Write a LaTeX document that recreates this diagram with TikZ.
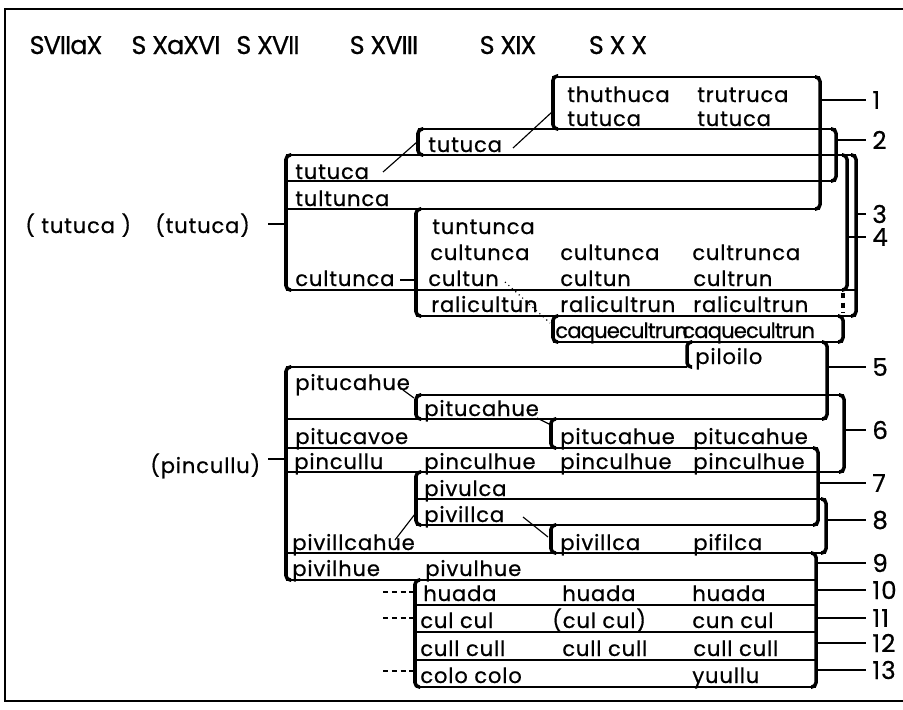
\documentclass[tikz,border=0pt]{standalone}
\usepackage{fontspec}
\newfontfamily\lbl[LetterSpace=4,FakeBold=0.6]{Poppins}
\newfontfamily\lbltight[LetterSpace=-4,FakeBold=0.6]{Poppins}
\begin{document}
\begin{tikzpicture}[x=0.02cm,y=-0.02cm,
  rowline/.style={line width=0.75pt},
  brk/.style={line width=2pt},
  tick/.style={line width=0.75pt},
  link/.style={line width=0.65pt},
  word/.style={anchor=base west, inner sep=0pt, font=\lbl\fontsize{12}{14}\selectfont},
  tightword/.style={anchor=base west, inner sep=0pt, font=\lbltight\fontsize{12}{14}\selectfont},
  head/.style={anchor=base, inner sep=0pt, font=\lbltight\fontsize{14.5}{16}\selectfont},
  num/.style={anchor=west, inner sep=0pt, font=\lbl\fontsize{14}{16}\selectfont},
  lhook/.style={brk, rounded corners=2.5pt},
  rhook/.style={brk, rounded corners=2.5pt}]
\useasboundingbox (0,0) rectangle (903,710);
\draw[line width=0.8pt] (906,9) -- (5,9) -- (5,701) -- (906,701);

% century headings
\node[head] (c1) at (66,54) {SVIIaX};
\node[head] (c2) at (176,54) {S XaXVI};
\node[head] (c3) at (268,54) {S XVII};
\node[head] (c4) at (384,54) {S XVIII};
\node[head] (c5) at (508,54) {S XIX};
\node[head] (c6) at (618,54) {S X X};

% names, row by row
\node[word] (thuthuca) at (567,102) {thuthuca};
\node[word] (trutruca) at (697,102) {trutruca};
\node[word] (tutucaXIX) at (567,126) {tutuca};
\node[word] (tutucaXX) at (697,126) {tutuca};
\node[word] (tutucaXVIII) at (428,152) {tutuca};
\node[word] (tutucaXVII) at (295,179) {tutuca};
\node[word] (tultunca) at (295,206) {tultunca};
\node[word] (tuntunca) at (432,234) {tuntunca};
\node[word] (cultuncaXVIII) at (430,260) {cultunca};
\node[word] (cultuncaXIX) at (560,260) {cultunca};
\node[word] (cultrunca) at (692,260) {cultrunca};
\node[word] (cultuncaXVII) at (295,286) {cultunca};
\node[word] (cultunXVIII) at (428,286) {cultun};
\node[word] (cultunXIX) at (560,286) {cultun};
\node[word] (cultrun) at (693,286) {cultrun};
\node[word] (ralicultun) at (431,312) {ralicultun};
\node[word] (ralicultrunXIX) at (560,312) {ralicultrun};
\node[word] (ralicultrunXX) at (693,312) {ralicultrun};
\node[tightword] (caqueXIX) at (555,338) {caquecultrun};
\node[tightword] (caqueXX) at (682,338) {caquecultrun};
\node[word] (piloilo) at (695,364) {piloilo};
\node[word] (pitucahueXVII) at (295,390) {pitucahue};
\node[word] (pitucahueXVIII) at (424,416) {pitucahue};
\node[word] (pitucavoe) at (295,444) {pitucavoe};
\node[word] (pitucahueXIX) at (560,444) {pitucahue};
\node[word] (pitucahueXX) at (693,444) {pitucahue};
\node[word] (pincullu) at (294,469) {pincullu};
\node[word] (pinculhueXVIII) at (424,469) {pinculhue};
\node[word] (pinculhueXIX) at (560,469) {pinculhue};
\node[word] (pinculhueXX) at (693,469) {pinculhue};
\node[word] (pivulca) at (424,496) {pivulca};
\node[word] (pivillcaXVIII) at (424,522) {pivillca};
\node[word] (pivillcahue) at (292,550) {pivillcahue};
\node[word] (pivillcaXIX) at (560,550) {pivillca};
\node[word] (pifilca) at (693,550) {pifilca};
\node[word] (pivilhue) at (292,576) {pivilhue};
\node[word] (pivulhue) at (425,576) {pivulhue};
\node[word] (huadaXVIII) at (423,601) {huada};
\node[word] (huadaXIX) at (562,601) {huada};
\node[word] (huadaXX) at (692,601) {huada};
\node[word] (culculXVIII) at (420,628) {cul cul};
\node[word] (culculXIX) at (552,628) {(cul cul)};
\node[word] (cuncul) at (692,628) {cun cul};
\node[word] (cullXVIII) at (420,656) {cull cull};
\node[word] (cullXIX) at (562,656) {cull cull};
\node[word] (cullXX) at (693,656) {cull cull};
\node[word] (colocolo) at (420,683) {colo colo};
\node[word] (yuullu) at (692,683) {yuullu};

% older forms on the left
\node[word] (tutucaA) at (25,233) {( tutuca )};
\node[word] (tutucaB) at (155,233) {(tutuca)};
\node[word] (pinculluA) at (150,473) {(pincullu)};

% horizontal rules between rows
\draw[rowline] (552,77) -- (820,77);
\draw[rowline] (418,129) -- (836,129);
\draw[rowline] (286,155) -- (856,155);
\draw[rowline] (286,181) -- (836,181);
\draw[rowline] (286,209) -- (820,209);
\draw[rowline] (286,290) -- (856,290);
\draw[rowline] (416,316) -- (856,316);
\draw[rowline] (553,342) -- (843,342);
\draw[rowline] (286,367) -- (687,367);
\draw[rowline] (416,395) -- (844,395);
\draw[rowline] (286,419) -- (827,419);
\draw[rowline] (286,448) -- (818,448);
\draw[rowline] (286,472) -- (844,472);
\draw[rowline] (416,499) -- (826,499);
\draw[rowline] (416,525) -- (818,525);
\draw[rowline] (286,553) -- (826,553);
\draw[rowline] (286,580) -- (816,580);
\draw[rowline] (416,605) -- (816,605);
\draw[rowline] (416,632) -- (816,632);
\draw[rowline] (416,660) -- (816,660);
\draw[rowline] (416,687) -- (816,687);

% left brackets, ends turned to the right
\foreach \xb/\ya/\yb in {553/76/129, 418/129/155, 286/155/290, 416/209/316,
  553/316/342, 687/342/367, 286/367/580, 416/395/419, 551/419/448,
  416/472/525, 551/525/553, 415/580/687}
  \draw[lhook] (\xb+5,\ya) -- (\xb,\ya) -- (\xb,\yb) -- (\xb+5,\yb);

% right brackets, ends turned to the left
\foreach \xb/\ya/\yb in {820/77/209, 836/129/181, 856/155/316, 847/155/290,
  843/316/342, 827/342/419, 844/395/472, 818/448/525, 826/499/553,
  816/553/687}
  \draw[rhook] (\xb-5,\ya) -- (\xb,\ya) -- (\xb,\yb) -- (\xb-5,\yb);
\draw[line width=2.2pt, dash pattern=on 3pt off 2.5pt] (843,293) -- (843,313);

% numbered leaders
\foreach \xa/\ya/\lab in {820/100/1, 836/140/2, 856/214/3, 847/237/4, 827/367/5,
  844/430/6, 818/483/7, 826/520/8, 816/563/9, 816/590/10, 816/618/11,
  816/643/12, 816/670/13}{
  \draw[tick] (\xa,\ya) -- (866,\ya);
  \node[num] at (872,\ya) {\lab};
}

% ticks leading into brackets
\draw[tick] (268,224) -- (286,224);
\draw[tick] (268,459) -- (286,459);
\draw[tick] (400,280) -- (416,280);
\foreach \ya in {592,618,671}
  \draw[tick, dash pattern=on 3pt off 2pt] (383,\ya) -- (415,\ya);

% descent links
\coordinate (a1) at (383,172); \coordinate (a2) at (417,142);
\coordinate (b1) at (513,148); \coordinate (b2) at (552,112);
\coordinate (c1) at (505,282); \coordinate (c2) at (550,323);
\coordinate (d1) at (403,390); \coordinate (d2) at (414,398);
\coordinate (e1) at (537,418); \coordinate (e2) at (549,424);
\coordinate (f1) at (395,540); \coordinate (f2) at (415,514);
\coordinate (g1) at (523,517); \coordinate (g2) at (548,537);
\draw[link] (a1) -- (a2);
\draw[link] (b1) -- (b2);
\draw[link, dotted] (c1) -- (c2);
\draw[link] (d1) -- (d2);
\draw[link] (e1) -- (e2);
\draw[link] (f1) -- (f2);
\draw[link] (g1) -- (g2);
\end{tikzpicture}
\end{document}
